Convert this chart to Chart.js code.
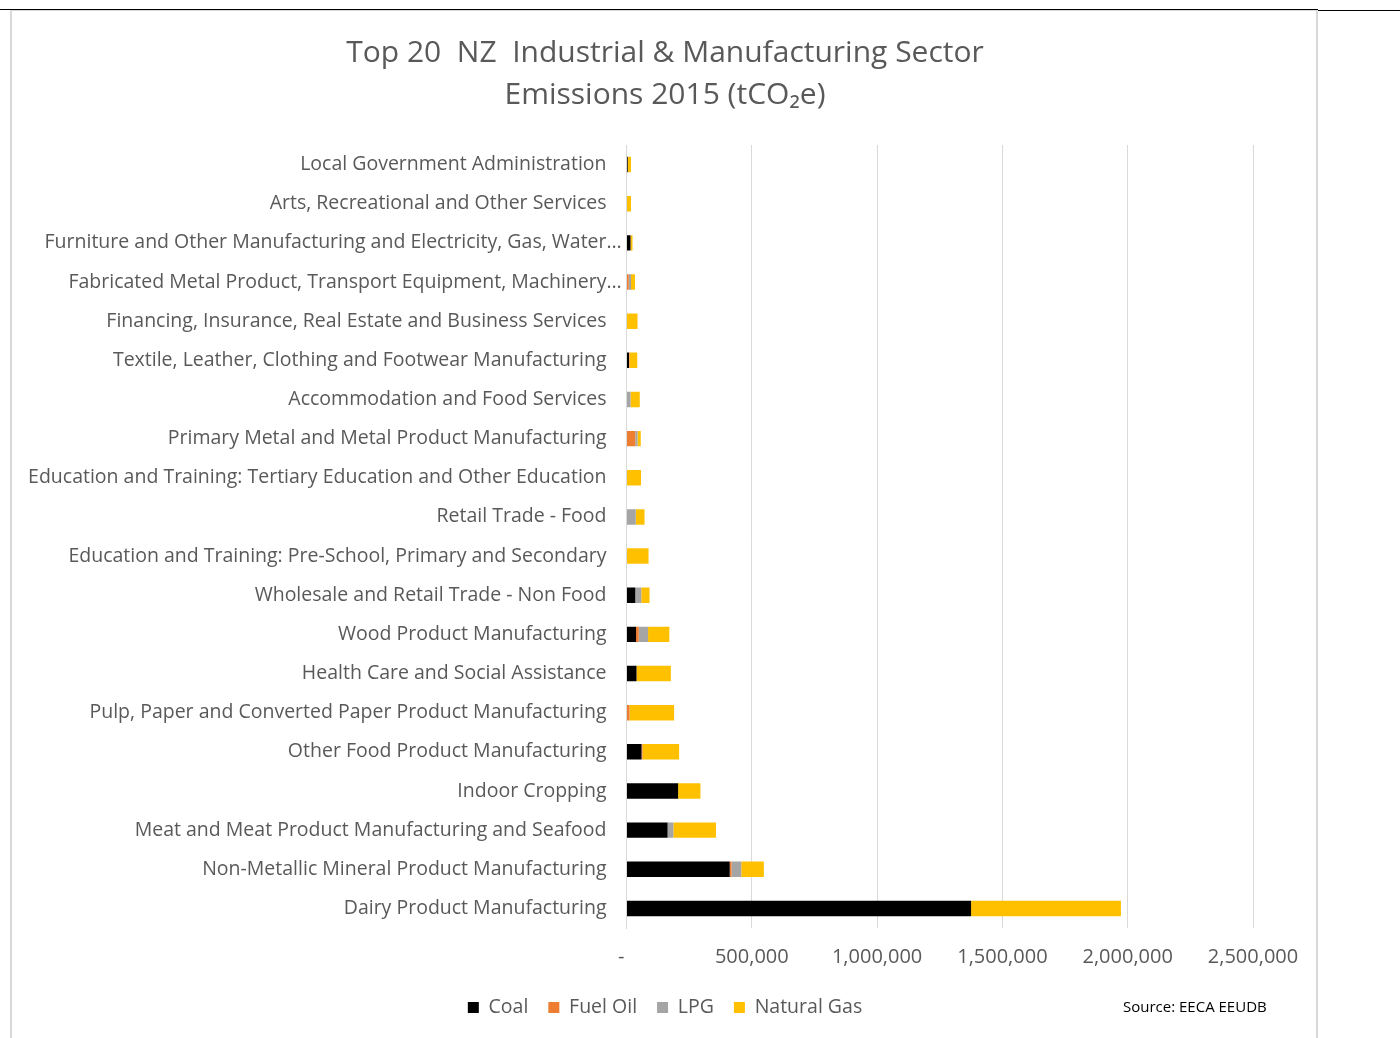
<!DOCTYPE html>
<html>
<head>
<meta charset="utf-8">
<script src="https://cdn.jsdelivr.net/npm/chart.js@4.4.1/dist/chart.umd.min.js"></script>
<style>
  html, body { margin: 0; padding: 0; background: #ffffff; }
  #wrap { position: relative; width: 1400px; height: 1038px; overflow: hidden; }
  #c { position: absolute; left: 0; top: 0; }
  .line { position: absolute; pointer-events: none; }
  #source { position: absolute; left: 1123px; top: 996px; font-family: 'Open Sans', sans-serif; font-size: 15px; color: #000000; white-space: nowrap; }
</style>
</head>
<body>
<div id="wrap">
  <canvas id="c" width="1400" height="1038"></canvas>
  <div class="line" style="left:0;top:9px;width:1318px;height:1px;background:#000;"></div>
  <div class="line" style="left:1318px;top:10px;width:82px;height:1px;background:#000;"></div>
  <div class="line" style="left:10px;top:10px;width:1308px;height:1px;background:#d9d9d9;"></div>
  <div class="line" style="left:10px;top:10px;width:2px;height:1028px;background:#d9d9d9;"></div>
  <div class="line" style="left:1316px;top:10px;width:2px;height:1028px;background:#d9d9d9;"></div>
  <div id="source">Source: EECA EEUDB</div>
</div>
<script>
const categories = [
  "Local Government Administration",
  "Arts, Recreational and Other Services",
  "Furniture and Other Manufacturing and Electricity, Gas, Water\u2026",
  "Fabricated Metal Product, Transport Equipment, Machinery\u2026",
  "Financing, Insurance, Real Estate and Business Services",
  "Textile, Leather, Clothing and Footwear Manufacturing",
  "Accommodation and Food Services",
  "Primary Metal and Metal Product Manufacturing",
  "Education and Training: Tertiary Education and Other Education",
  "Retail Trade - Food",
  "Education and Training: Pre-School, Primary and Secondary",
  "Wholesale and Retail Trade - Non Food",
  "Wood Product Manufacturing",
  "Health Care and Social Assistance",
  "Pulp, Paper and Converted Paper Product Manufacturing",
  "Other Food Product Manufacturing",
  "Indoor Cropping",
  "Meat and Meat Product Manufacturing and Seafood",
  "Non-Metallic Mineral Product Manufacturing",
  "Dairy Product Manufacturing"
];
const coal       = [5000, 0, 16000, 0, 0, 10000, 0, 0, 0, 0, 0, 35000, 38000, 40000, 0, 60000, 206000, 164000, 412000, 1375000];
const fuelOil    = [0, 0, 0, 9000, 0, 2000, 0, 35000, 0, 0, 0, 0, 11000, 0, 12000, 4000, 0, 0, 7000, 0];
const lpg        = [0, 0, 0, 9000, 0, 0, 16000, 9000, 0, 37000, 0, 24000, 37000, 0, 0, 0, 0, 23000, 39000, 0];
const naturalGas = [13000, 18000, 8000, 16000, 44000, 31000, 37000, 13000, 58000, 35000, 88000, 33000, 85000, 137000, 178000, 146000, 89000, 170000, 90000, 598000];
const seriesNames = ["Coal", "Fuel Oil", "LPG", "Natural Gas"];
const titleLines = ["Top 20  NZ  Industrial & Manufacturing Sector", "Emissions 2015 (tCO\u2082e)"];
const xTickValues = [0, 500000, 1000000, 1500000, 2000000, 2500000];

const FONT = "'Open Sans', sans-serif";
const TXT = '#595959';
const LABEL_SIZE = 19.5;
const colors = ['#000000', '#ED7D31', '#A5A5A5', '#FFC000'];
const seriesData = [coal, fuelOil, lpg, naturalGas];

// Excel lets the ellipsis of truncated labels overflow past the label margin
const ellipsisOverflow = {
  id: 'ellipsisOverflow',
  beforeDraw(chart) {
    const s = chart.scales.y;
    if (!s || !s.getLabelItems) return;
    const ctx = chart.ctx;
    ctx.save();
    ctx.font = LABEL_SIZE + "px " + FONT;
    const w = ctx.measureText('\u2026').width;
    ctx.restore();
    s.getLabelItems().forEach(it => {
      if (typeof it.label === 'string' && it.label.endsWith('\u2026') && !it._shifted) {
        it.options.translation[0] += w;
        it._shifted = true;
      }
    });
  }
};

new Chart(document.getElementById('c'), {
  type: 'bar',
  data: {
    labels: categories,
    datasets: seriesNames.map((n, i) => ({
      label: n,
      data: seriesData[i],
      backgroundColor: colors[i],
      borderWidth: 0,
      barPercentage: 0.395,
      categoryPercentage: 1.0
    }))
  },
  plugins: [ellipsisOverflow],
  options: {
    indexAxis: 'y',
    responsive: false,
    animation: false,
    layout: { padding: { left: 12, right: 82, top: 10, bottom: 10.75 } },
    plugins: {
      title: {
        display: true,
        text: titleLines,
        color: TXT,
        font: { family: FONT, size: 30, weight: 'normal', lineHeight: 42 / 30 },
        padding: { top: 22, bottom: 29 }
      },
      legend: {
        position: 'bottom',
        labels: {
          color: TXT,
          font: { family: FONT, size: 19.5 },
          boxWidth: 11,
          boxHeight: 11,
          padding: 20
        }
      },
      tooltip: { enabled: false }
    },
    scales: {
      x: {
        stacked: true,
        min: 0,
        max: 2500000,
        afterBuildTicks: (s) => { s.ticks = xTickValues.map(v => ({ value: v })); },
        ticks: {
          color: TXT,
          font: { family: FONT, size: 20 },
          padding: 17,
          maxRotation: 0,
          callback: (v) => v === 0 ? '-  ' : Number(v).toLocaleString('en-US')
        },
        grid: { color: '#d9d9d9', drawTicks: false, lineWidth: 1 },
        border: { display: false },
        afterFit: (s) => { s.height = 49.75; }
      },
      y: {
        stacked: true,
        ticks: {
          color: TXT,
          font: { family: FONT, size: LABEL_SIZE },
          padding: 20,
          autoSkip: false
        },
        grid: { display: false, drawTicks: false },
        border: { display: true, color: '#d9d9d9' },
        afterFit: (s) => { s.width = 614.5; }
      },
      y2: {
        type: 'linear',
        position: 'right',
        display: true,
        ticks: { display: false },
        grid: { display: false, drawTicks: false },
        border: { display: false },
        afterFit: (s) => { s.width = 65; }
      }
    }
  }
});
</script>
</body>
</html>
